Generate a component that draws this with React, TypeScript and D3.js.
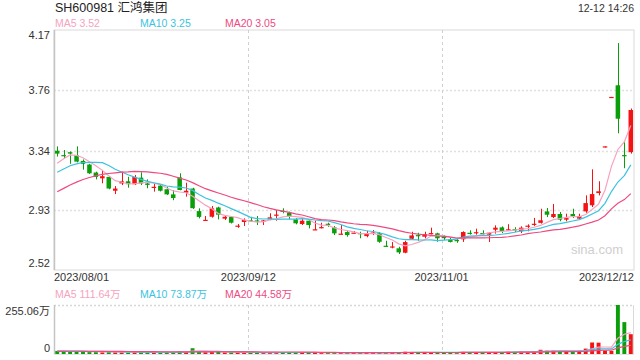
import React from "react";
import * as d3 from "d3";

// trading days shown on the chart
const dates = [
  "2023/08/01", "2023/08/02", "2023/08/03", "2023/08/04", "2023/08/07", "2023/08/08", "2023/08/09", "2023/08/10",
  "2023/08/11", "2023/08/14", "2023/08/15", "2023/08/16", "2023/08/17", "2023/08/18", "2023/08/21", "2023/08/22",
  "2023/08/23", "2023/08/24", "2023/08/25", "2023/08/28", "2023/08/29", "2023/08/30", "2023/08/31",
  "2023/09/01", "2023/09/04", "2023/09/05", "2023/09/06", "2023/09/07", "2023/09/08", "2023/09/11", "2023/09/12",
  "2023/09/13", "2023/09/14", "2023/09/15", "2023/09/18", "2023/09/19", "2023/09/20", "2023/09/21", "2023/09/22",
  "2023/09/25", "2023/09/26", "2023/09/27", "2023/09/28",
  "2023/10/09", "2023/10/10", "2023/10/11", "2023/10/12", "2023/10/13", "2023/10/16", "2023/10/17", "2023/10/18",
  "2023/10/19", "2023/10/20", "2023/10/23", "2023/10/24", "2023/10/25", "2023/10/26", "2023/10/27", "2023/10/30",
  "2023/10/31",
  "2023/11/01", "2023/11/02", "2023/11/03", "2023/11/06", "2023/11/07", "2023/11/08", "2023/11/09", "2023/11/10",
  "2023/11/13", "2023/11/14", "2023/11/15", "2023/11/16", "2023/11/17", "2023/11/20", "2023/11/21", "2023/11/22",
  "2023/11/23", "2023/11/24", "2023/11/27", "2023/11/28", "2023/11/29", "2023/11/30",
  "2023/12/01", "2023/12/04", "2023/12/05", "2023/12/06", "2023/12/07", "2023/12/08", "2023/12/11", "2023/12/12",
];

const opens = [
  3.34, 3.31, 3.33, 3.31, 3.27, 3.245, 3.19, 3.15, 3.16, 3.065,
  3.115, 3.13, 3.11, 3.155, 3.115, 3.085, 3.10, 3.075, 3.04, 3.157,
  3.052, 3.08, 2.925, 2.86, 2.886, 2.95, 2.873, 2.885, 2.82, 2.85,
  2.862, 2.861, 2.857, 2.868, 2.897, 2.927, 2.914, 2.868, 2.836, 2.859,
  2.797, 2.811, 2.838, 2.813, 2.766, 2.781, 2.774, 2.774, 2.753, 2.774,
  2.772, 2.687, 2.678, 2.669, 2.639, 2.735, 2.76, 2.749, 2.77, 2.772,
  2.747, 2.73, 2.726, 2.731, 2.776, 2.776, 2.774, 2.763, 2.797, 2.813,
  2.795, 2.80, 2.786, 2.82, 2.834, 2.844, 2.923, 2.884, 2.905, 2.866,
  2.905, 2.873, 2.923, 2.965, 3.049, 3.37, 3.71, 3.79, 3.31, 3.33,
];
const highs = [
  3.37, 3.345, 3.335, 3.37, 3.28, 3.25, 3.196, 3.208, 3.165, 3.097,
  3.196, 3.161, 3.173, 3.192, 3.143, 3.116, 3.105, 3.093, 3.07, 3.185,
  3.12, 3.085, 2.944, 2.891, 2.96, 2.955, 2.898, 2.89, 2.836, 2.875,
  2.886, 2.891, 2.864, 2.91, 2.932, 2.944, 2.921, 2.877, 2.875, 2.863,
  2.859, 2.845, 2.845, 2.822, 2.829, 2.788, 2.788, 2.783, 2.79, 2.795,
  2.781, 2.721, 2.712, 2.68, 2.721, 2.783, 2.776, 2.783, 2.811, 2.776,
  2.76, 2.74, 2.741, 2.786, 2.793, 2.804, 2.793, 2.781, 2.827, 2.82,
  2.835, 2.814, 2.82, 2.834, 2.878, 2.941, 2.946, 2.974, 2.919, 2.907,
  2.941, 2.907, 3.033, 3.212, 3.13, 3.37, 3.71, 4.08, 3.40, 3.63,
];
const lows = [
  3.30, 3.288, 3.25, 3.26, 3.21, 3.18, 3.143, 3.116, 3.075, 3.042,
  3.104, 3.086, 3.104, 3.104, 3.082, 3.059, 3.06, 3.036, 3.0, 3.068,
  3.024, 2.94, 2.875, 2.857, 2.88, 2.868, 2.864, 2.84, 2.81, 2.823,
  2.85, 2.829, 2.829, 2.863, 2.859, 2.91, 2.868, 2.834, 2.829, 2.806,
  2.795, 2.806, 2.817, 2.76, 2.765, 2.749, 2.772, 2.738, 2.745, 2.76,
  2.707, 2.68, 2.669, 2.63, 2.635, 2.731, 2.721, 2.738, 2.765, 2.714,
  2.726, 2.71, 2.707, 2.713, 2.763, 2.763, 2.759, 2.713, 2.77, 2.774,
  2.793, 2.781, 2.774, 2.786, 2.823, 2.839, 2.884, 2.877, 2.855, 2.855,
  2.877, 2.869, 2.913, 2.953, 3.033, 3.37, 3.71, 3.46, 3.22, 3.32,
];
const closes = [
  3.32, 3.305, 3.32, 3.265, 3.25, 3.185, 3.16, 3.165, 3.08, 3.08,
  3.13, 3.11, 3.16, 3.115, 3.105, 3.092, 3.065, 3.04, 3.015, 3.07,
  3.065, 2.945, 2.885, 2.865, 2.944, 2.90, 2.886, 2.845, 2.825, 2.864,
  2.858, 2.857, 2.861, 2.882, 2.901, 2.923, 2.886, 2.841, 2.859, 2.829,
  2.80, 2.815, 2.834, 2.772, 2.77, 2.76, 2.777, 2.77, 2.772, 2.778,
  2.714, 2.684, 2.682, 2.641, 2.712, 2.758, 2.756, 2.767, 2.774, 2.738,
  2.743, 2.713, 2.722, 2.781, 2.772, 2.78, 2.77, 2.776, 2.811, 2.788,
  2.80, 2.796, 2.811, 2.825, 2.838, 2.862, 2.90, 2.905, 2.866, 2.877,
  2.891, 2.891, 2.98, 3.042, 3.061, 3.37, 3.71, 3.56, 3.305, 3.62,
];
// volumes in 万
const volumes = [
  16, 15, 12, 13, 11, 12, 10, 9, 12, 9,
  10, 9, 10, 9, 8, 8, 9, 9, 10, 15,
  11, 30, 14, 9, 12, 11, 8, 9, 8, 8,
  7, 7, 7, 8, 9, 8, 8, 8, 7, 8,
  8, 7, 6, 8, 7, 7, 6, 7, 7, 6,
  9, 8, 7, 9, 12, 10, 8, 8, 8, 8,
  7, 8, 7, 11, 8, 9, 8, 9, 10, 10,
  12, 11, 13, 12, 14, 22, 18, 19, 16, 15.9,
  16, 17.5, 28, 60, 59, 18, 16, 255.06, 166, 103.14,
];

// closes / volumes of the 19 days before the first candle (feed the moving averages)
const priorCloses = [2.84, 2.86, 2.87, 2.89, 2.91, 2.93, 2.95, 2.97, 2.99, 3.03, 3.08, 3.10, 3.13, 3.16, 3.18, 3.15, 3.19, 3.28, 3.33];
const priorVolumes = [12, 11, 13, 12, 14, 13, 12, 15, 14, 13, 12, 14, 16, 15, 13, 14, 16, 18, 17];

const priceTicks = [4.17, 3.76, 3.34, 2.93, 2.52];
const dateTicks = ["2023/08/01", "2023/09/12", "2023/11/01", "2023/12/12"];
const volumeTicks = [255.06, 0];
const volumeTickLabels = ["255.06万", "0"];
const maPeriods = [5, 10, 20];
const maColors = ["#f5a3c0", "#3bc3df", "#ee4a7f"];
const priceMaLabels = ["MA5 3.52", "MA10 3.25", "MA20 3.05"];
const volumeMaLabels = ["MA5 111.64万", "MA10 73.87万", "MA20 44.58万"];

const UP = "#f51212";
const DOWN = "#0a9e0a";
const FONT = "Arial, 'Liberation Sans', 'Noto Sans CJK SC', sans-serif";

function movingAverage(prior: number[], vals: number[], n: number) {
  const all = prior.concat(vals);
  const off = prior.length;
  return vals.map((_, i) => d3.mean(all.slice(off + i - n + 1, off + i + 1)) as number);
}

export default function App() {
  const left = 54, right = 634;
  const top = 30, bottom = 270;
  const vTop = 305, vBottom = 354;

  const x = d3.scaleBand<string>().domain(dates).range([left, right]).paddingInner(0.3).paddingOuter(0.15);
  const bw = x.bandwidth();
  const cx = (d: string) => (x(d) as number) + bw / 2;
  const y = d3.scaleLinear().domain([2.52, 4.17]).range([bottom, top]);
  const vy = d3.scaleLinear().domain([0, 255.06]).range([vBottom, vTop]);

  const isUp = (i: number) =>
    closes[i] > opens[i] ? true : closes[i] < opens[i] ? false : i === 0 || closes[i] >= closes[i - 1];

  const priceLine = d3.line<number>().x((_, i) => cx(dates[i])).y((v) => y(v));
  const volLine = d3.line<number>().x((_, i) => cx(dates[i])).y((v) => vy(v));

  const legendX = [55, 140, 225];

  return (
    <svg width={640} height={360} style={{ position: "absolute", left: 0, top: 0, background: "#fff" }} fontFamily={FONT}>
      {/* header */}
      <text x={55} y={12} fontSize={12.5} fill="#222">SH600981 汇鸿集团</text>
      <text x={634} y={12} fontSize={10.5} fill="#333" textAnchor="end">12-12 14:26</text>
      {priceMaLabels.map((t, k) => (
        <text key={t} x={legendX[k]} y={27} fontSize={10.5} fill={maColors[k]}>{t}</text>
      ))}

      {/* price frame and grid */}
      <rect x={left} y={top} width={right - left} height={bottom - top} fill="none" stroke="#dadada" />
      {priceTicks.slice(1, -1).map((t) => (
        <line key={t} x1={left} x2={right} y1={Math.round(y(t)) + 0.5} y2={Math.round(y(t)) + 0.5}
          stroke="#e0e0e0" strokeWidth={1.5} strokeDasharray="2,2" />
      ))}
      {dateTicks.slice(1, -1).map((d) => (
        <g key={d}>
          <line x1={Math.round(x(d) as number) + 0.5} x2={Math.round(x(d) as number) + 0.5} y1={top} y2={bottom}
            stroke="#d0d0d0" strokeDasharray="3,3" />
          <line x1={Math.round(x(d) as number) + 0.5} x2={Math.round(x(d) as number) + 0.5} y1={vTop} y2={vBottom}
            stroke="#d0d0d0" strokeDasharray="3,3" />
        </g>
      ))}
      <line x1={left + 0.5} x2={left + 0.5} y1={top} y2={bottom} stroke="#c4c4c4" strokeWidth={1.5} />
      {priceTicks.map((t, k) => (
        <text key={t} x={50} y={k === 0 ? y(t) + 8.5 : k === priceTicks.length - 1 ? y(t) - 3 : y(t) + 4}
          fontSize={11} fill="#333" textAnchor="end">{t.toFixed(2)}</text>
      ))}
      {dateTicks.map((d, k) => (
        <text key={d} x={k === 0 ? left : k === dateTicks.length - 1 ? right : (x(d) as number)} y={281}
          fontSize={11} fill="#333"
          textAnchor={k === 0 ? "start" : k === dateTicks.length - 1 ? "end" : "middle"}>{d}</text>
      ))}
      <text x={623} y={254} fontSize={13} fill="#cfcfcf">
        <tspan textAnchor="end">sina.com</tspan>
      </text>

      {/* candles */}
      {dates.map((d, i) => {
        const c = isUp(i) ? UP : DOWN;
        const xc = Math.round(cx(d)) + 0.5;
        const yTop = y(Math.max(opens[i], closes[i]));
        const yBot = y(Math.min(opens[i], closes[i]));
        return (
          <g key={d}>
            <line x1={xc} x2={xc} y1={y(highs[i])} y2={Math.max(y(lows[i]), y(highs[i]) + 1)} stroke={c} strokeWidth={1} />
            <rect x={cx(d) - bw / 2} y={yTop} width={bw} height={Math.max(yBot - yTop, 1.2)} fill={c} />
          </g>
        );
      })}

      {/* price moving averages */}
      {maPeriods.map((n, k) => (
        <path key={n} d={priceLine(movingAverage(priorCloses, closes, n)) || ""} fill="none" stroke={maColors[k]} strokeWidth={1.2} />
      ))}

      {/* volume panel */}
      {volumeMaLabels.map((t, k) => (
        <text key={t} x={legendX[k]} y={298} fontSize={10.5} fill={maColors[k]}>{t}</text>
      ))}
      <line x1={left} x2={right} y1={vTop + 0.5} y2={vTop + 0.5} stroke="#d8d8d8" strokeWidth={1.5} strokeDasharray="2,2" />
      <line x1={right - 0.5} x2={right - 0.5} y1={vTop} y2={vBottom} stroke="#dadada" />
      <line x1={left} x2={right} y1={vBottom + 0.5} y2={vBottom + 0.5} stroke="#e4e4e4" />
      <line x1={left + 0.5} x2={left + 0.5} y1={vTop} y2={vBottom} stroke="#c4c4c4" strokeWidth={1.5} />
      {volumeTicks.map((t, k) => (
        <text key={t} x={50} y={k === 0 ? vy(t) + 9.5 : vy(t) - 2} fontSize={11} fill="#333" textAnchor="end">
          {volumeTickLabels[k]}
        </text>
      ))}
      {dates.map((d, i) => (
        <rect key={d} x={cx(d) - bw / 2 + 0.3} y={vy(volumes[i])} width={bw - 0.6} height={vBottom - vy(volumes[i])}
          fill={isUp(i) ? UP : DOWN} />
      ))}
      {maPeriods.map((n, k) => (
        <path key={n} d={volLine(movingAverage(priorVolumes, volumes, n)) || ""} fill="none" stroke={maColors[k]} strokeWidth={1.2} />
      ))}
    </svg>
  );
}
